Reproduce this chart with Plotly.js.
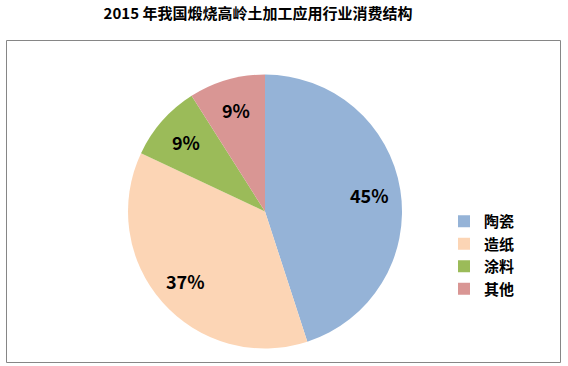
<!DOCTYPE html>
<html>
<head>
<meta charset="utf-8">
<script src="https://cdn.plot.ly/plotly-3.0.1.min.js"></script>
<style>html,body{margin:0;padding:0;background:#fff;}#chart{width:568px;height:366px;}</style>
</head>
<body>
<div id="chart"></div>
<script>
const categories = ["陶瓷", "造纸", "涂料", "其他"];
const shares = [45, 37, 9, 9];
const sliceColors = ["#95B3D7", "#FCD5B5", "#9BBB59", "#D99694"];
const chartTitle = "2015 年我国煅烧高岭土加工应用行业消费结构";

const W = 568, H = 366;
const cx = 265, cy = 211.5, r = 137;
const labelRadius = 0.77;
const FONT = "'Noto Sans CJK SC', 'Open Sans', sans-serif";

const trace = {
  type: "pie",
  labels: categories,
  values: shares,
  sort: false,
  direction: "clockwise",
  rotation: 0,
  marker: { colors: sliceColors, line: { width: 0 } },
  textinfo: "none",
  hoverinfo: "label+percent",
  domain: {
    x: [(cx - r) / W, (cx + r) / W],
    y: [(H - cy - r) / H, (H - cy + r) / H]
  }
};

// percentage labels placed at the mid-angle of each slice, computed from the data
const total = shares.reduce((a, b) => a + b, 0);
let cum = 0;
const annotations = shares.map((v) => {
  const mid = (cum + v / 2) / total * 2 * Math.PI;
  cum += v;
  const px = cx + Math.sin(mid) * r * labelRadius;
  const py = cy - Math.cos(mid) * r * labelRadius;
  return {
    xref: "paper", yref: "paper",
    x: px / W, y: 1 - py / H,
    xanchor: "center", yanchor: "middle",
    text: Math.round(v / total * 100) + "%",
    showarrow: false,
    font: { family: FONT, size: 18, color: "#000000", weight: "bold" }
  };
});

const layout = {
  width: W, height: H,
  margin: { l: 0, r: 0, t: 0, b: 0 },
  paper_bgcolor: "#ffffff",
  showlegend: true,
  title: {
    text: chartTitle,
    font: { family: FONT, size: 15, color: "#000000", weight: "bold" },
    x: 258 / W, xanchor: "center",
    y: 1 - 14 / H, yanchor: "middle",
    xref: "paper", yref: "paper"
  },
  legend: {
    x: 444 / W, xanchor: "left",
    y: 1 - 205 / H, yanchor: "top",
    font: { family: FONT, size: 15, color: "#000000", weight: "bold" },
    bgcolor: "rgba(0,0,0,0)",
    traceorder: "normal"
  },
  annotations: annotations,
  shapes: [{
    type: "rect", xref: "paper", yref: "paper",
    x0: 6.5 / W, x1: 560.5 / W,
    y0: 1 - 362.5 / H, y1: 1 - 40.5 / H,
    line: { color: "#868686", width: 1 },
    layer: "below"
  }]
};

Plotly.newPlot("chart", [trace], layout, { displayModeBar: false, staticPlot: true });
</script>
</body>
</html>
